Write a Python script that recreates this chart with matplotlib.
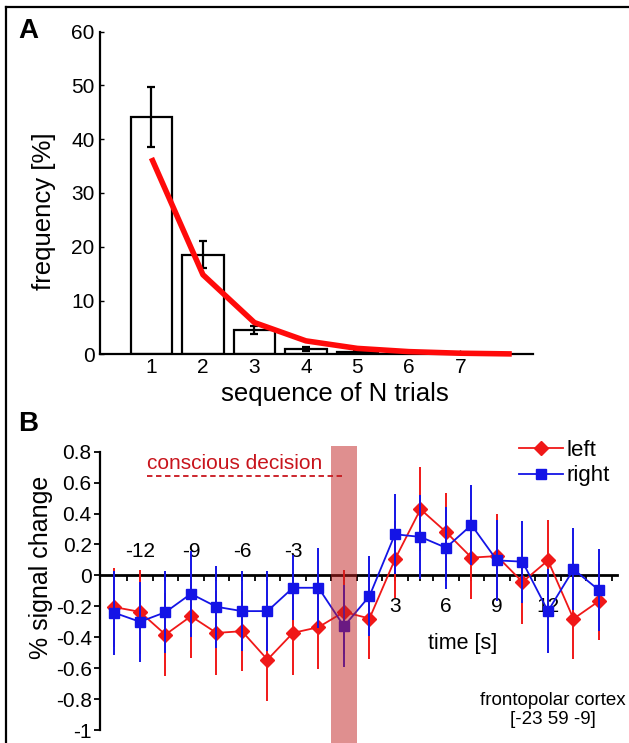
import matplotlib
matplotlib.use('Agg')
import matplotlib.pyplot as plt
import numpy as np
from matplotlib.lines import Line2D

plt.rcParams['font.family'] = ['Liberation Sans', 'DejaVu Sans']

# panel A data
n_trials = [1, 2, 3, 4, 5, 6, 7]
freq = [44.2, 18.5, 4.5, 1.0, 0.4, 0.1, 0.05]
freq_err = [5.6, 2.5, 0.8, 0.4, 0.2, 0.0, 0.0]
fit_x = [1, 2, 3, 4, 5, 6, 7, 8]
fit_y = [36.5, 14.8, 5.9, 2.5, 1.1, 0.5, 0.2, 0.07]

# panel B data
time_s = [-13.5, -12, -10.5, -9, -7.5, -6, -4.5, -3, -1.5, 0,
          1.5, 3, 4.5, 6, 7.5, 9, 10.5, 12, 13.5, 15]
left = [-0.205, -0.236, -0.383, -0.264, -0.372, -0.361, -0.545, -0.372, -0.335, -0.236,
        -0.279, 0.104, 0.428, 0.281, 0.115, 0.125, -0.043, 0.097, -0.281, -0.166]
left_err = [0.255, 0.27, 0.27, 0.27, 0.27, 0.26, 0.27, 0.27, 0.27, 0.27,
            0.26, 0.25, 0.27, 0.255, 0.27, 0.27, 0.27, 0.26, 0.26, 0.25]
right = [-0.242, -0.30, -0.238, -0.119, -0.203, -0.231, -0.231, -0.08, -0.08, -0.329,
         -0.134, 0.266, 0.249, 0.179, 0.326, 0.097, 0.089, -0.231, 0.039, -0.095]
right_err = [0.27, 0.26, 0.265, 0.277, 0.265, 0.26, 0.26, 0.21, 0.26, 0.266,
             0.26, 0.26, 0.27, 0.265, 0.26, 0.26, 0.265, 0.27, 0.265, 0.264]
neg_ticks = [-12, -9, -6, -3]
pos_ticks = [3, 6, 9, 12]

W, H = 629, 743
fig = plt.figure(figsize=(W / 100, H / 100), dpi=100)

# ---------- panel A ----------
axA = fig.add_axes([100 / W, 1 - 354.3 / H, 433.4 / W, 322.6 / H])
axA.bar(n_trials, freq, width=0.81, color='white', edgecolor='black', linewidth=1.6, zorder=2)
axA.errorbar(n_trials[:5], freq[:5], yerr=freq_err[:5], fmt='none', ecolor='black',
             elinewidth=1.6, capsize=3, capthick=1.6, zorder=3)
axA.plot(fit_x, fit_y, color='#ff0a0a', linewidth=4, solid_capstyle='butt', zorder=4, clip_on=False)
axA.set_xlim(0, 8.42)
axA.set_ylim(0, 60)
axA.spines['top'].set_visible(False)
axA.spines['right'].set_visible(False)
axA.spines['left'].set_linewidth(1.6)
axA.spines['bottom'].set_linewidth(1.6)
axA.set_xticks(n_trials)
axA.set_yticks([0, 10, 20, 30, 40, 50, 60])
axA.tick_params(axis='y', direction='in', length=3, width=1, labelsize=15, pad=4)
axA.tick_params(axis='x', direction='in', length=3, width=1, labelsize=15, pad=3)
axA.set_xlabel('sequence of N trials', fontsize=18.5)
axA.xaxis.set_label_coords(0.543, -0.087)
axA.set_ylabel('frequency [%]', fontsize=18.5)
axA.yaxis.set_label_coords(-0.102, 0.444)

# ---------- panel B ----------
y0_px = 575.4
ppu = 154.6
ytop = 0.86
ybot = -(H - y0_px) / ppu
axB = fig.add_axes([100 / W, 0, 517 / W, (H - (y0_px - ytop * ppu)) / H])
axB.set_xlim(-14.35, 16.06)
axB.set_ylim(ybot, ytop)

axB.errorbar(time_s, left, yerr=left_err, color='#f01818', ecolor='#f01818', elinewidth=1.4,
             linewidth=1.3, marker='D', markersize=7, capsize=0, zorder=3)
axB.errorbar(time_s, right, yerr=right_err, color='#1414e6', ecolor='#1414e6', elinewidth=1.4,
             linewidth=1.3, marker='s', markersize=7.5, capsize=0, zorder=4)

# conscious decision band
axB.axvspan(-0.75, 0.75, ymin=0, ymax=(0.837 - ybot) / (ytop - ybot),
            color='#c02020', alpha=0.5, linewidth=0, zorder=5)
axB.plot([-11.6, -0.08], [0.643, 0.643], color='#c8141c', linestyle=(0, (3, 2)), linewidth=1.3)
axB.text(-11.6, 0.69, 'conscious decision', color='#c8141c', fontsize=15, ha='left', va='baseline')

axB.spines['top'].set_visible(False)
axB.spines['right'].set_visible(False)
axB.spines['bottom'].set_position(('data', 0))
axB.spines['bottom'].set_linewidth(2)
axB.spines['left'].set_bounds(-1, 0.8)
axB.spines['left'].set_linewidth(1.6)
axB.set_yticks([-1, -0.8, -0.6, -0.4, -0.2, 0, 0.2, 0.4, 0.6, 0.8])
axB.set_yticklabels(['-1', '-0.8', '-0.6', '-0.4', '-0.2', '0', '0.2', '0.4', '0.6', '0.8'])
axB.tick_params(axis='y', direction='out', length=4, width=1.3, labelsize=15, pad=2)
axB.set_xticks(np.arange(-13.5, 15.8, 0.75))
axB.set_xticklabels([])
axB.tick_params(axis='x', direction='out', length=4, width=1.3)
for t in neg_ticks:
    axB.text(t, 0.155, str(t), ha='center', va='center', fontsize=15)
for t in pos_ticks:
    axB.text(t, -0.2, str(t), ha='center', va='center', fontsize=15)
axB.text(7.0, -0.44, 'time [s]', ha='center', va='center', fontsize=15.5)
axB.text(12.3, -0.87, 'frontopolar cortex\n[-23 59 -9]', ha='center', va='center',
         fontsize=13.5, linespacing=1.2)
axB.set_ylabel('% signal change', fontsize=18)
axB.yaxis.set_label_coords(-0.091, (0.054 - ybot) / (ytop - ybot))

handles = [Line2D([], [], color='#f01818', marker='D', markersize=7, linewidth=1.3),
           Line2D([], [], color='#1414e6', marker='s', markersize=7.5, linewidth=1.3)]
axB.legend(handles, ['left', 'right'], loc='upper right', bbox_to_anchor=(1.025, 1.075),
           frameon=False, fontsize=16, handlelength=2.0, handletextpad=0.15, labelspacing=0.2)

# panel letters and frame
fig.text(28 / W, 1 - 31 / H, 'A', fontsize=20, fontweight='bold', ha='center', va='center')
fig.text(28 / W, 1 - 424 / H, 'B', fontsize=20, fontweight='bold', ha='center', va='center')
fig.add_artist(Line2D([6.5 / W, 6.5 / W], [0, 1 - 6.5 / H], color='black', linewidth=1.6))
fig.add_artist(Line2D([6.5 / W, 1], [1 - 6.5 / H, 1 - 6.5 / H], color='black', linewidth=1.6))

fig.savefig('out.png', dpi=100)
